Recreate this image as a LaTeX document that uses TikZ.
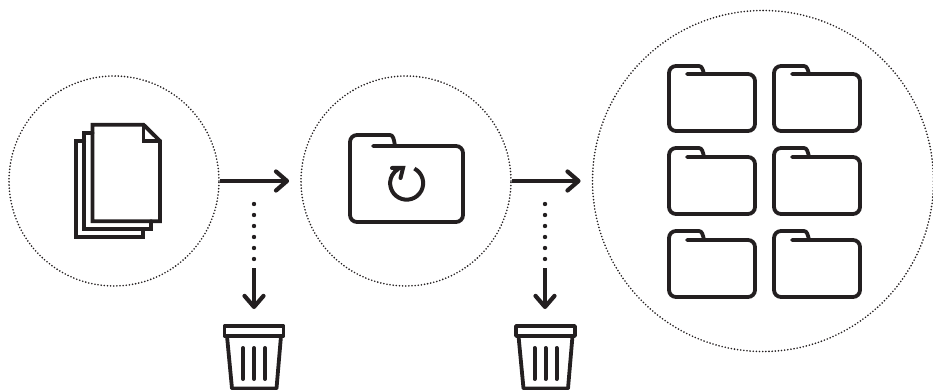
\documentclass[tikz,border=0pt]{standalone}
\usetikzlibrary{arrows.meta,calc}
\definecolor{ink}{HTML}{231F20}
\tikzset{
  halo/.style={draw=ink,circle,inner sep=0pt,line width=1.8pt,line cap=round,dash pattern=on 0pt off 3.15pt},
  icon/.style={draw=ink,line width=3.8pt,line join=round,line cap=round},
  flow/.style={draw=ink,line width=4.2pt,-{Straight Barb[round,length=11pt,width=19pt,line width=4.2pt]}},
  dots/.style={draw=ink,line width=4.4pt,line cap=round,dash pattern=on 0pt off 11pt},
}
% folder: left, tab top, main top, right, bottom, tab start, tab end
\newcommand{\myfolder}[7]{%
  \draw[icon,rounded corners=7pt] (#6,#3) -- (#4,#3) -- (#4,#5) -- (#1,#5) -- (#1,#2) -- (#7,#2);
  \draw[icon] (#7,#2) .. controls (#7+3,#2) and (#7+4,#2+4) .. (#7+5,#3);
}
\newcommand{\mybin}[1]{%
  \begin{scope}[shift={(#1,0)}]
    \draw[icon] (-29.5,326) rectangle (29.5,336);
    \draw[icon,line cap=butt] (-27,336) -- (-22,388.5) -- (22.5,388.5) -- (27,336);
    \draw[icon,line width=4pt] (-11,348) -- (-11,379) (0,348) -- (0,379) (11,348) -- (11,379);
  \end{scope}
}
\begin{document}
\begin{tikzpicture}[x=1pt,y=-1pt]
\useasboundingbox (0,0) rectangle (933,390);
\node[halo,minimum size=210pt] (c1) at (114,181) {};
\node[halo,minimum size=210pt] (c2) at (406,181) {};
\node[halo,minimum size=341pt] (c3) at (763,181) {};
% papers
\draw[icon,line join=miter] (92.5,124.7) -- (143.5,124.7) -- (160,141) -- (160,221.3) -- (92.5,221.3) -- cycle;
\draw[icon,line join=miter] (143.5,124.7) -- (143.5,141) -- (160,141);
\draw[icon,line join=miter] (92.5,132.8) -- (84.2,132.8) -- (84.2,229) -- (151.3,229) -- (151.3,221.3);
\draw[icon,line join=miter] (84.2,141.2) -- (76,141.2) -- (76,237) -- (143.3,237) -- (143.3,229);
% middle folder
\myfolder{350}{135}{146}{463}{222}{373}{390}
\draw[icon,line width=4pt,line cap=butt] (414.4,168.6) arc[start angle=-62,end angle=240,radius=16.5];
\draw[icon,line width=4pt,line join=miter,line cap=round] (392,168) -- (403,168) -- (400.5,178);
% folder grid
\myfolder{669}{66}{74}{755}{131}{687}{699}
\myfolder{774}{66}{74}{860}{131}{792}{804}
\myfolder{669}{148}{157}{755}{214}{687}{699}
\myfolder{774}{148}{157}{860}{214}{792}{804}
\myfolder{669}{231}{240}{755}{297}{687}{699}
\myfolder{774}{231}{240}{860}{297}{792}{804}
% flow
\draw[flow,shorten >=11pt] (c1.east) -- (c2.west);
\draw[flow,shorten >=11pt] (c2.east) -- (c3.west);
% discards
\coordinate (d1) at (254,204);
\coordinate (e1) at (254,260);
\coordinate (f1) at (254,268);
\coordinate (g1) at (254,309);
\coordinate (d2) at (545,204);
\coordinate (e2) at (545,260);
\coordinate (f2) at (545,268);
\coordinate (g2) at (545,309);
\draw[dots] (d1) -- (e1);
\draw[dots] (d2) -- (e2);
\draw[flow] (f1) -- (g1);
\draw[flow] (f2) -- (g2);
\mybin{254}
\mybin{545.5}
\end{tikzpicture}
\end{document}
